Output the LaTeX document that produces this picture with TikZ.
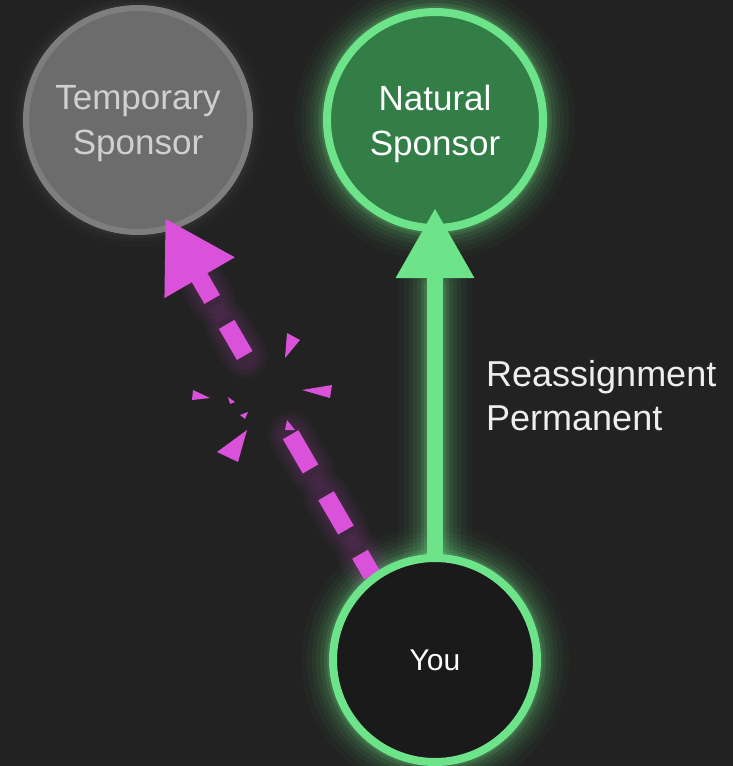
\documentclass[tikz,border=0pt]{standalone}
\usepackage{fontspec}
\setmainfont{Liberation Sans}
\usetikzlibrary{arrows.meta,calc}
\definecolor{bg}{RGB}{34,34,34}
\definecolor{glowgreen}{RGB}{110,228,138}
\definecolor{natfill}{RGB}{50,126,70}
\definecolor{youfill}{RGB}{26,26,26}
\definecolor{tempfill}{RGB}{108,108,108}
\definecolor{tempedge}{RGB}{126,126,126}
\definecolor{temptext}{RGB}{208,208,208}
\definecolor{mag}{RGB}{218,82,218}
\definecolor{labeltext}{RGB}{238,238,238}
\tikzset{
  sponsor/.style={circle, minimum size=#1, inner sep=0pt, outer sep=0pt, align=center},
  bigtext/.style={font=\fontsize{35}{45}\selectfont, text depth=0pt},
  magdash/.style={draw=mag, line width=18pt},
  magglow/.style={draw=mag, line width=#1, opacity=0.045, line cap=round},
  shard/.style={fill=mag},
}
\begin{document}
\begin{tikzpicture}[x=1pt,y=-1pt]
\fill[bg] (0,0) rectangle (733,766);
\useasboundingbox (0,0) rectangle (733,766);
\coordinate (pT) at (138,120);
\coordinate (pN) at (435,120);
\coordinate (pY) at (435,660);
% green glows
\foreach \w/\o in {64/0.03,52/0.04,42/0.05,34/0.06,26/0.08,18/0.12,12/0.16}{
  \draw[glowgreen,opacity=\o,line width=\w] (pN) circle (108);
  \draw[glowgreen,opacity=\o,line width=\w] (pY) circle (102);
  \draw[glowgreen,opacity=\o,line width=\w+10, line cap=round] (435,560) -- (435,285);
}
% soft glow around temporary sponsor
\foreach \w/\o in {30/0.03,20/0.05,12/0.07}{
  \draw[tempedge,opacity=\o,line width=\w] (pT) circle (112);
}
% temporary sponsor
\node[sponsor=224, fill=tempfill, draw=tempedge, line width=6pt, bigtext, text=temptext] (temp) at (pT) {Temporary\\Sponsor};
% natural sponsor
\node[sponsor=216, fill=natfill, draw=glowgreen, line width=8pt, bigtext, text=white] (nat) at (pN) {Natural\\Sponsor};
% green arrow
\coordinate (you0) at ($(pY)+(0,-100)$);
\draw[glowgreen, line width=16pt, -{Triangle[width=74pt,length=70pt]}] (you0) -- ([yshift=20pt]nat.south);
% magenta broken arrow
\coordinate (ms) at (372,575);
\coordinate (mt) at (165,218);
\foreach \a/\b in {0/0.058,0.126/0.222,0.297/0.393,0.615/0.702,0.772/0.85}{
  \foreach \w in {46,38,30,24}{
    \draw[magglow=\w pt] ($(ms)!\a!(mt)$) -- ($(ms)!\b!(mt)$);
  }
}
\foreach \a/\b in {0/0.058,0.126/0.222,0.297/0.393,0.615/0.702}{
  \draw[magdash] ($(ms)!\a!(mt)$) -- ($(ms)!\b!(mt)$);
}
\draw[magdash, -{Triangle[width=76pt,length=69pt]}] ($(ms)!0.772!(mt)$) -- (mt);
% shards
\fill[shard] (287,333) -- (300,340) -- (285,358) -- cycle;
\fill[shard] (302,390) -- (332,385) -- (330,398) -- cycle;
\fill[shard] (193,390) -- (210,398) -- (192,400) -- cycle;
\fill[shard] (228,397) -- (235,402) -- (230,404) -- cycle;
\fill[shard] (240,415) -- (248,412) -- (245,419) -- cycle;
\fill[shard] (247,430) -- (217,452) -- (238,462) -- cycle;
\fill[shard] (287,420) -- (295,430) -- (285,430) -- cycle;
% you
\node[sponsor=204, fill=youfill, draw=glowgreen, line width=8pt, font=\fontsize{30}{36}\selectfont, text=white] (you) at (pY) {You};
% label
\node[anchor=west, inner sep=0pt, align=left, font=\fontsize{36}{44}\selectfont, text=labeltext] (lab) at (486,396) {Reassignment\\Permanent};
\end{tikzpicture}
\end{document}
